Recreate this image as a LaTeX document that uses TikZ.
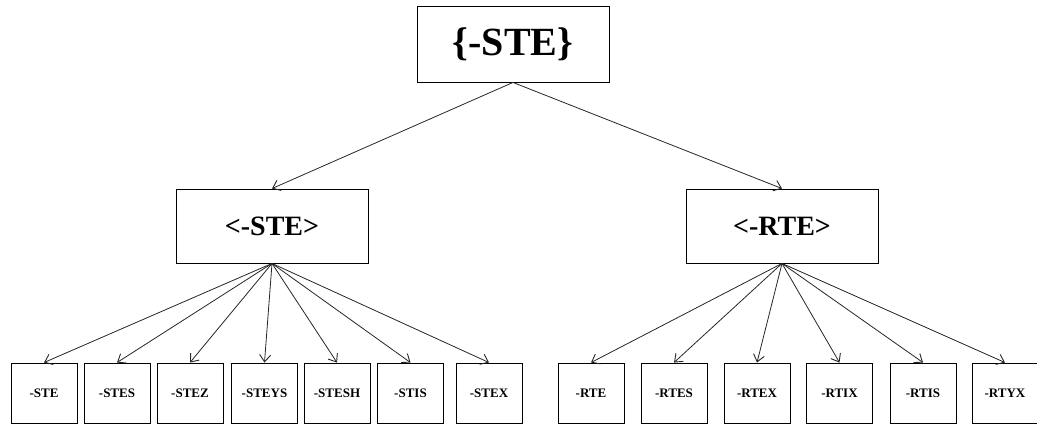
\documentclass[tikz,border=0pt]{standalone}
\usepackage{fontspec}
\setmainfont{Liberation Serif}
\usetikzlibrary{arrows.meta}
\begin{document}
\begin{tikzpicture}[x=1pt,y=1pt,
  box/.style={draw, line width=0.9pt, inner sep=0pt, font=\bfseries},
  rootbox/.style={box, minimum width=192pt, minimum height=76pt, font=\fontsize{40}{44}\selectfont\bfseries},
  midbox/.style={box, minimum width=192pt, minimum height=74pt, font=\fontsize{28}{32}\selectfont\bfseries},
  leafbox/.style={box, minimum width=66pt, minimum height=60pt, font=\fontsize{13}{15}\selectfont\bfseries},
  link/.style={line width=0.8pt, draw=black!85, -{Straight Barb[length=7pt,width=11pt,line width=0.9pt]}}]
\useasboundingbox (0,0) rectangle (1037,424);
% root and the two branches
\node[rootbox] (root) at (513,380) {\{-STE\}};
\node[midbox] (ste) at (272,198) {<-STE>};
\node[midbox] (rte) at (782,198) {<-RTE>};
\draw[link] (root.south) -- (ste.north);
\draw[link] (root.south) -- (rte.north);
% leaves under <-STE>
\foreach \n/\x/\t in {s1/44/-STE, s2/117/-STES, s3/190/-STEZ, s4/264.5/-STEYS,
                       s5/337/-STESH, s6/410.5/-STIS, s7/489/-STEX}{
  \node[leafbox] (\n) at (\x,31) {\t};
  \draw[link] (ste.south) -- (\n.north);
}
% leaves under <-RTE>
\foreach \n/\x/\t in {r1/591/-RTE, r2/674/-RTES, r3/757/-RTEX, r4/839.5/-RTIX,
                       r5/923/-RTIS, r6/1005/-RTYX}{
  \node[leafbox] (\n) at (\x,31) {\t};
  \draw[link] (rte.south) -- (\n.north);
}
\end{tikzpicture}
\end{document}
